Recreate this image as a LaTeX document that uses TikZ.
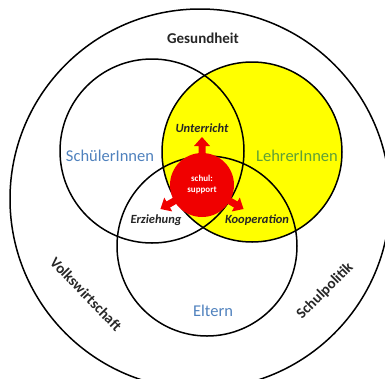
\documentclass[tikz,border=0pt]{standalone}
\usepackage{fontspec}
\setmainfont{Carlito}
\definecolor{oblue}{RGB}{79,129,189}
\definecolor{ogreen}{RGB}{95,160,55}
\definecolor{vyellow}{RGB}{255,255,0}
\definecolor{vred}{RGB}{240,0,0}
\tikzset{
  ring/.style={draw=black, line width=1.5pt},
  outerlabel/.style={font=\bfseries\fontsize{15}{17}\selectfont, text=black!85},
  grouplabel/.style={font=\fontsize{16.5}{19}\selectfont},
  overlap/.style={font=\bfseries\itshape\fontsize{12.5}{15}\selectfont, text=black!85},
  fatarrow/.style={fill=vred, draw=none},
}
\begin{document}
\begin{tikzpicture}[x=1pt,y=-1pt]
\useasboundingbox (0,0) rectangle (385,378);
% coordinates
\coordinate (O) at (200,199);
\coordinate (S) at (152,151);
\coordinate (L) at (252,152);
\coordinate (E) at (207,246);
\coordinate (C) at (202,185);
% fills
\fill[vyellow] (L) circle (90);
% circles
\draw[ring] (O) circle (190);
\draw[ring] (S) circle (92);
\draw[ring] (L) circle (90);
\draw[ring] (E) circle (90);
% center red
\fill[vred] (C) circle (32);
\foreach \a in {90,210,-30}{
  \fill[fatarrow, shift={(C)}, rotate=\a]
    (26,-3.5) -- (39,-3.5) -- (39,-8) -- (48,0) -- (39,8) -- (39,3.5) -- (26,3.5) -- cycle;
}
% labels
\node[outerlabel] (ges) at (203,38) {Gesundheit};
\node[outerlabel, rotate=-46] (vw) at (86,294) {Volkswirtschaft};
\node[outerlabel, rotate=45] (sp) at (325,291) {Schulpolitik};
\node[grouplabel, text=oblue] (sch) at (110,156) {SchülerInnen};
\node[grouplabel, text=ogreen] (leh) at (297,156) {LehrerInnen};
\node[grouplabel, text=oblue] (elt) at (213,311) {Eltern};
\node[overlap] (unt) at (202,128) {Unterricht};
\node[overlap] (erz) at (156,220) {Erziehung};
\node[overlap] (koo) at (257,220) {Kooperation};
\node[font=\bfseries\fontsize{9}{11}\selectfont, text=white, align=center] (ss) at (C) {schul:\\support};
\end{tikzpicture}
\end{document}
